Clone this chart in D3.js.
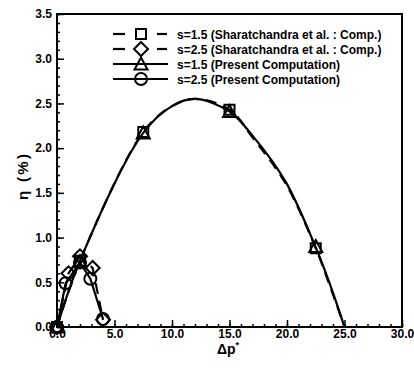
<!DOCTYPE html>
<html>
<head>
<meta charset="utf-8">
<script src="https://cdn.jsdelivr.net/npm/d3@7"></script>
<style>
  body { margin: 0; background: #fff; }
  text { font-family: 'Liberation Sans', Arial, sans-serif; font-weight: bold; fill: #000; }
</style>
</head>
<body>
<svg id="chart" width="414" height="371"></svg>
<script>
'use strict';

// s=1.5 curves
var presentS15X = [0, 2, 7.5, 10, 12, 15, 17, 19.9, 22.5, 23.7, 25];
var presentS15Y = [0, 0.74, 2.17, 2.47, 2.55, 2.41, 2.14, 1.62, 0.89, 0.49, 0];
var sharatS15X = [0, 2, 7.5, 10, 12, 15, 17, 19.9, 22.5, 23.7, 25];
var sharatS15Y = [0, 0.74, 2.18, 2.47, 2.55, 2.43, 2.12, 1.6, 0.88, 0.47, 0];

// s=1.5 markers
var s15MarkX = [0, 2, 7.5, 15, 22.5];
var presentS15MarkY = [0, 0.73, 2.17, 2.41, 0.9];
var sharatS15MarkY = [0, 0.74, 2.18, 2.43, 0.88];

// s=2.5 points
var presentS25X = [0, 0.75, 2, 2.9, 4];
var presentS25Y = [0, 0.49, 0.72, 0.54, 0.09];
var sharatS25X = [0, 1, 2, 3.1, 4];
var sharatS25Y = [0, 0.6, 0.79, 0.66, 0.08];

var xTicks = [0, 5, 10, 15, 20, 25, 30];
var yTicks = [0, 0.5, 1, 1.5, 2, 2.5, 3, 3.5];

var legendLabels = [
  's=1.5 (Sharatchandra et al. : Comp.)',
  's=2.5 (Sharatchandra et al. : Comp.)',
  's=1.5 (Present Computation)',
  's=2.5 (Present Computation)'
];

function zip(xs, ys) {
  return xs.map(function (x, i) {
    return {x: x, y: ys[i]};
  });
}

// marker outline centred on 0,0
function markerPath(type) {
  if (type === 'square') {
    return 'M-5,-5H5V5H-5Z';
  }
  if (type === 'diamond') {
    return 'M0,-7L7,0L0,7L-7,0Z';
  }
  if (type === 'triangle') {
    return 'M0,-6.5L6.5,5.5H-6.5Z';
  }
  // circle
  return 'M6,0A6,6 0 1,1 -6,0A6,6 0 1,1 6,0Z';
}

var svg = d3.select('#chart');
var plotLeft = 57, plotRight = 402, plotTop = 14, plotBottom = 327;

var x = d3.scaleLinear().domain([0, 30]).range([plotLeft, plotRight]);
var y = d3.scaleLinear().domain([0, 3.5]).range([plotBottom, plotTop]);

// minor ticks
svg.append('g')
  .attr('transform', 'translate(0,' + plotBottom + ')')
  .call(d3.axisBottom(x).tickValues(d3.range(0, 31, 1)).tickSize(-3).tickFormat(''))
  .call(function (g) { g.select('.domain').remove(); });

svg.append('g')
  .attr('transform', 'translate(' + plotLeft + ',0)')
  .call(d3.axisLeft(y).tickValues(d3.range(0, 36, 1).map(function (d) { return d / 10; })).tickSize(-3).tickFormat(''))
  .call(function (g) { g.select('.domain').remove(); });

// major ticks and labels
var xAxis = svg.append('g')
  .attr('transform', 'translate(0,' + plotBottom + ')')
  .call(d3.axisBottom(x).tickValues(xTicks).tickSize(-7).tickFormat(d3.format('.1f')));
xAxis.select('.domain').remove();
xAxis.selectAll('text').attr('y', 2).attr('dy', '0.71em').attr('font-size', 12);

var yAxis = svg.append('g')
  .attr('transform', 'translate(' + plotLeft + ',0)')
  .call(d3.axisLeft(y).tickValues(yTicks).tickSize(-7).tickFormat(d3.format('.1f')));
yAxis.select('.domain').remove();
yAxis.selectAll('text').attr('x', -5).attr('font-size', 12);
svg.selectAll('.tick line').attr('stroke', '#000').attr('stroke-width', 1.5);

// frame
svg.append('rect')
  .attr('x', plotLeft)
  .attr('y', plotTop)
  .attr('width', plotRight - plotLeft)
  .attr('height', plotBottom - plotTop)
  .attr('fill', 'none')
  .attr('stroke', '#000')
  .attr('stroke-width', 2);

// curves
var smooth = d3.line()
  .x(function (d) { return x(d.x); })
  .y(function (d) { return y(d.y); })
  .curve(d3.curveCatmullRom);

var straight = d3.line()
  .x(function (d) { return x(d.x); })
  .y(function (d) { return y(d.y); });

var series = [
  {line: smooth, pts: zip(sharatS15X, sharatS15Y), dash: '11,7'},
  {line: straight, pts: zip(sharatS25X, sharatS25Y), dash: '11,7'},
  {line: smooth, pts: zip(presentS15X, presentS15Y), dash: null},
  {line: straight, pts: zip(presentS25X, presentS25Y), dash: null}
];

series.forEach(function (s) {
  svg.append('path')
    .attr('d', s.line(s.pts))
    .attr('fill', 'none')
    .attr('stroke', '#000')
    .attr('stroke-width', 2.2)
    .attr('stroke-dasharray', s.dash);
});

var markers = [
  {type: 'square', pts: zip(s15MarkX, sharatS15MarkY)},
  {type: 'diamond', pts: zip(sharatS25X, sharatS25Y)},
  {type: 'triangle', pts: zip(s15MarkX, presentS15MarkY)},
  {type: 'circle', pts: zip(presentS25X, presentS25Y)}
];

markers.forEach(function (m) {
  svg.append('g')
    .selectAll('path')
    .data(m.pts)
    .enter()
    .append('path')
    .attr('transform', function (d) { return 'translate(' + x(d.x) + ',' + y(d.y) + ')'; })
    .attr('d', markerPath(m.type))
    .attr('fill', 'none')
    .attr('stroke', '#000')
    .attr('stroke-width', 2);
});

// legend
var legend = svg.append('g');
legendLabels.forEach(function (label, i) {
  var ly = 34 + i * 15;
  var row = legend.append('g').attr('transform', 'translate(0,' + ly + ')');
  if (series[i].dash) {
    row.append('line').attr('x1', 113).attr('x2', 125);
    row.append('line').attr('x1', 157).attr('x2', 167);
  } else {
    row.append('line').attr('x1', 113).attr('x2', 168);
  }
  row.selectAll('line')
    .attr('y1', 0)
    .attr('y2', 0)
    .attr('stroke', '#000')
    .attr('stroke-width', 2.2);
  row.append('path')
    .attr('transform', 'translate(141,0)')
    .attr('d', markerPath(markers[i].type))
    .attr('fill', 'none')
    .attr('stroke', '#000')
    .attr('stroke-width', 2);
  row.append('text')
    .attr('x', 177)
    .attr('y', 4.5)
    .attr('font-size', 12)
    .text(label);
});

// axis titles
var xTitle = svg.append('text')
  .attr('x', 228)
  .attr('y', 354)
  .attr('text-anchor', 'middle')
  .attr('font-size', 14);
xTitle.append('tspan').text('\u0394p');
xTitle.append('tspan').attr('dy', -6).attr('font-size', 9).text('*');

svg.append('text')
  .attr('transform', 'translate(28,177) rotate(-90)')
  .attr('text-anchor', 'middle')
  .attr('font-size', 15)
  .attr('textLength', 46)
  .attr('lengthAdjust', 'spacing')
  .text('\u03b7 (%)');
</script>
</body>
</html>
